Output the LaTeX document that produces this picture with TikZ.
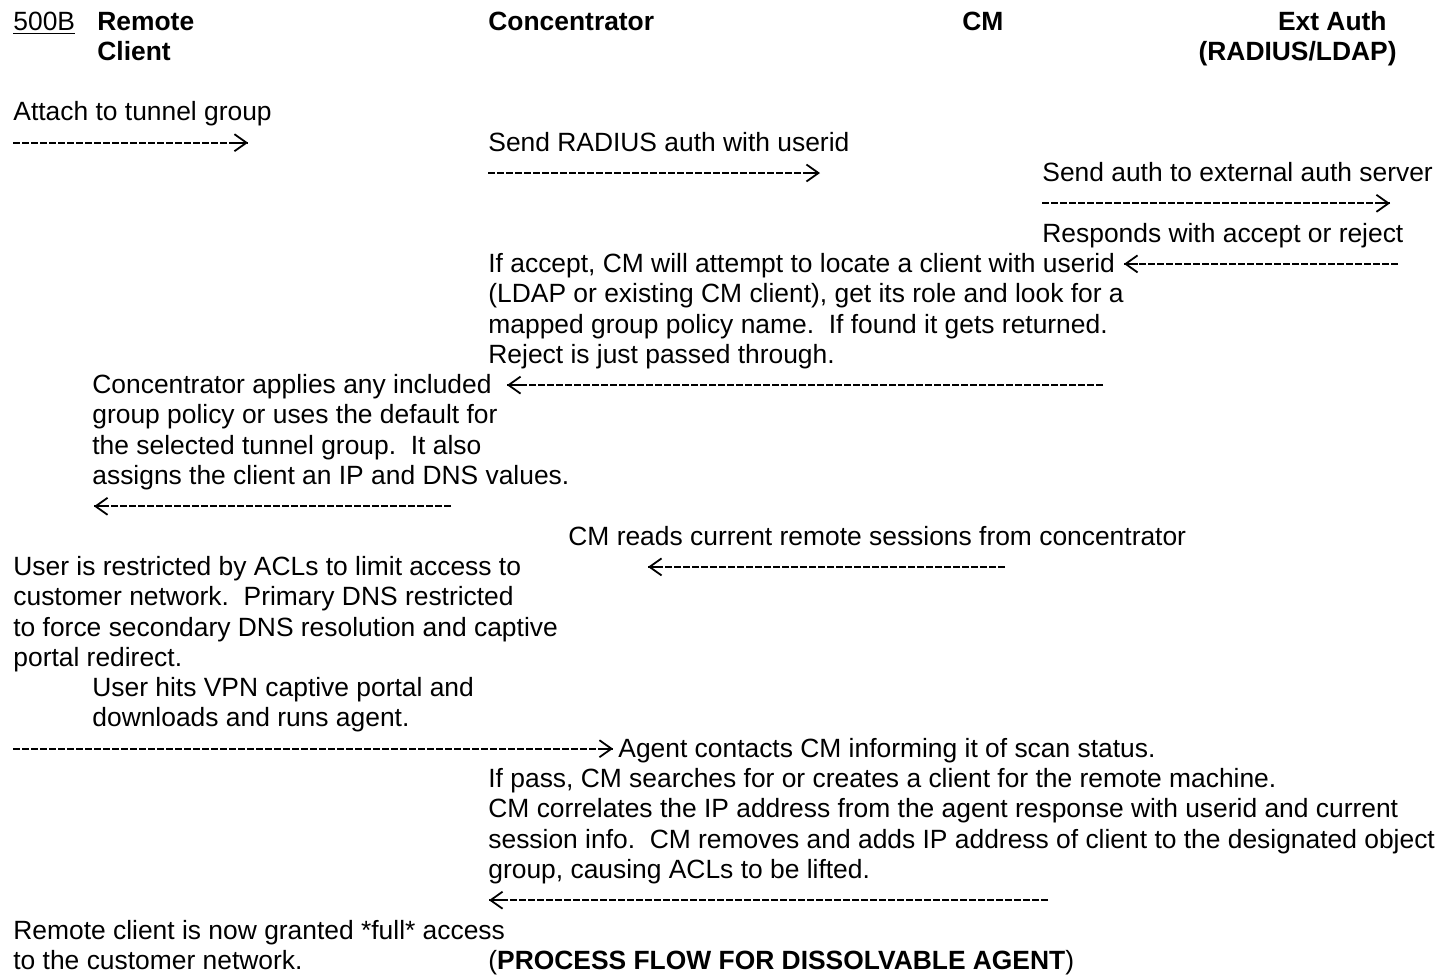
\documentclass[tikz,border=0pt]{standalone}
\usepackage{fontspec}
\setmainfont{Liberation Sans}
\usetikzlibrary{arrows.meta,calc}
\newcommand\fs{\fontsize{13.2pt}{15.1pt}\selectfont}
\tikzset{
  txt/.style={anchor=base west, inner sep=0pt, font=\fs},
  hd/.style={txt, font=\fs\bfseries},
  msg/.style={line width=1pt, dash pattern=on 3.3pt off 1.2pt},
  msgtip/.style={line width=0.9pt, -{Straight Barb[length=6pt,width=8.5pt]}},
}
% dashed message line from #1 to #2, with an arrow head at #2
\newcommand\msgarrow[2]{%
  \draw[msg] (#1) -- (#2);
  \draw[msgtip] ($(#2)!7pt!(#1)$) -- (#2);}
\begin{document}
\begin{tikzpicture}[x=0.5pt,y=-0.5pt]
\useasboundingbox (0,0) rectangle (1441,976);

% column headings
\node[txt] (fig) at (13,30) {\underline{500B}};
\node[hd] (hrc1) at (97,30) {Remote};
\node[hd] (hrc2) at (97,60.3) {Client};
\node[hd] (hcon) at (488,30) {Concentrator};
\node[hd] (hcm) at (962,30) {CM};
\node[hd,anchor=base east] (hext1) at (1387,30) {Ext Auth};
\node[hd,anchor=base east] (hext2) at (1397,60.3) {(RADIUS/LDAP)};

% attach and authentication
\node[txt] (t3) at (13,120.9) {Attach to tunnel group};
\coordinate (a1s) at (13,142.7); \coordinate (a1e) at (248,142.7);
\msgarrow{a1s}{a1e}
\node[txt] (t4) at (488,151.2) {Send RADIUS auth with userid};
\coordinate (a2s) at (488,173); \coordinate (a2e) at (820,173);
\msgarrow{a2s}{a2e}
\node[txt] (t5) at (1042,181.5) {Send auth to external auth server};
\coordinate (a3s) at (1042,203.3); \coordinate (a3e) at (1390,203.3);
\msgarrow{a3s}{a3e}
\node[txt] (t7) at (1042,242.1) {Responds with accept or reject};

% CM lookup of group policy
\node[txt] (t8) at (488,272.4) {If accept, CM will attempt to locate a client with userid};
\coordinate (a4s) at (1398,263.9); \coordinate (a4e) at (1124,263.9);
\msgarrow{a4s}{a4e}
\node[txt] (t9) at (488,302.7) {(LDAP or existing CM client), get its role and look for a};
\node[txt] (t10) at (488,333) {mapped group policy name.\ \ If found it gets returned.};
\node[txt] (t11) at (488,363.3) {Reject is just passed through.};

% concentrator applies policy
\node[txt] (t12) at (92,393.6) {Concentrator applies any included};
\coordinate (a5s) at (1103,385.1); \coordinate (a5e) at (507,385.1);
\msgarrow{a5s}{a5e}
\node[txt] (t13) at (92,423.9) {group policy or uses the default for};
\node[txt] (t14) at (92,454.2) {the selected tunnel group.\ \ It also};
\node[txt] (t15) at (92,484.5) {assigns the client an IP and DNS values.};
\coordinate (a6s) at (451,506.3); \coordinate (a6e) at (94,506.3);
\msgarrow{a6s}{a6e}

% session read and restriction
\node[txt] (t17) at (568,545.1) {CM reads current remote sessions from concentrator};
\node[txt] (t18) at (13,575.4) {User is restricted by ACLs to limit access to};
\coordinate (a7s) at (1005,566.9); \coordinate (a7e) at (648,566.9);
\msgarrow{a7s}{a7e}
\node[txt] (t19) at (13,605.7) {customer network.\ \ Primary DNS restricted};
\node[txt] (t20) at (13,636) {to force secondary DNS resolution and captive};
\node[txt] (t21) at (13,666.3) {portal redirect.};
\node[txt] (t22) at (92,696.6) {User hits VPN captive portal and};
\node[txt] (t23) at (92,726.9) {downloads and runs agent.};

% agent scan and ACL lifting
\coordinate (a8s) at (13,748.7); \coordinate (a8e) at (613,748.7);
\msgarrow{a8s}{a8e}
\node[txt] (t24) at (618,757.2) {Agent contacts CM informing it of scan status.};
\node[txt] (t25) at (488,787.5) {If pass, CM searches for or creates a client for the remote machine.};
\node[txt] (t26) at (488,817.8) {CM correlates the IP address from the agent response with userid and current};
\node[txt] (t27) at (488,848.1) {session info.\ \ CM removes and adds IP address of client to the designated object};
\node[txt] (t28) at (488,878.4) {group, causing ACLs to be lifted.};
\coordinate (a9s) at (1048,900.2); \coordinate (a9e) at (489,900.2);
\msgarrow{a9s}{a9e}

% final state
\node[txt] (t30) at (13,939) {Remote client is now granted *full* access};
\node[txt] (t31) at (13,969.3) {to the customer network.};
\node[txt] (cap) at (488,969.3) {(\textbf{PROCESS FLOW FOR DISSOLVABLE AGENT})};
\end{tikzpicture}
\end{document}
